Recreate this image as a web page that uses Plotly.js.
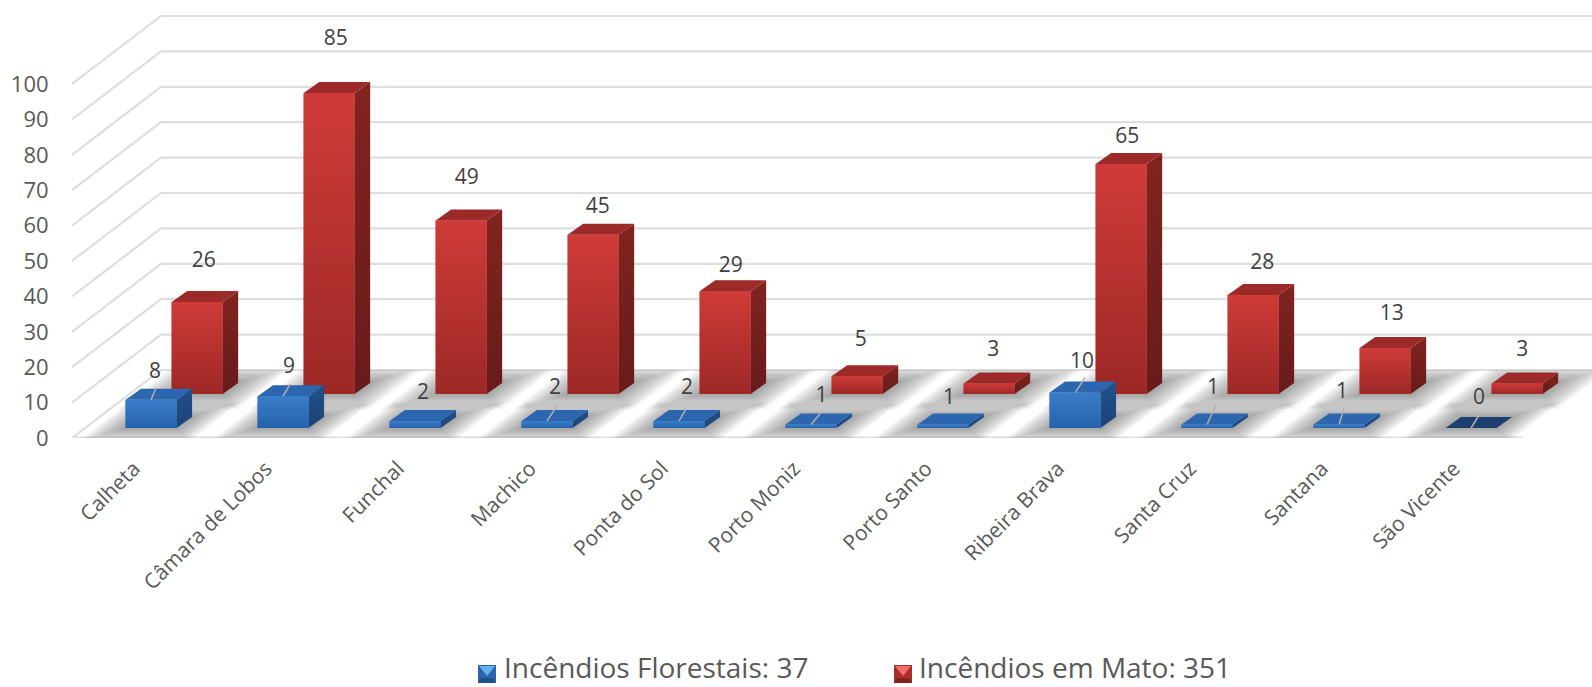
<!DOCTYPE html>
<html><head><meta charset="utf-8">
<script src="https://cdn.plot.ly/plotly-3.0.1.min.js"></script>
<style>html,body{margin:0;padding:0;background:#fff}#c{width:1592px;height:687px}</style></head>
<body><div id="c"></div>
<script>
const categories=["Calheta","Câmara de Lobos","Funchal","Machico","Ponta do Sol","Porto Moniz","Porto Santo","Ribeira Brava","Santa Cruz","Santana","São Vicente"];
const florestais=[8,9,2,2,2,1,1,10,1,1,0];
const mato=[26,85,49,45,29,5,3,65,28,13,3];
const yTicks=[0,10,20,30,40,50,60,70,80,90,100];
const legendNames=["Incêndios Florestais: 37","Incêndios em Mato: 351"];
// label placement (pixels relative to bar's front-top centre)
const redLabelDX=[6.5,6.5,5.5,4.5,5.5,3.5,4,6,9,6.5,5];
const redLabelLift=[40,53.5,41.8,26.7,24.3,35.3,33,26,31,33,33];
const blueLabelDX=[4,6,8,8,8,10.5,6,7,6,3,8];
const blueLabelLift=[26.5,28,27.5,32.5,32.5,28,26,29.5,36,32,29.5];
const leaderDX=[5,7,0,10,7,10,0,10,9,5,8];
const leaderDY=[12,12,0,15,12,12,0,15,20,17,13];

const SLOT=132,UNIT=3.54,W=51/SLOT,DEPX=15.5/SLOT,DEPY=11/UNIT;
const RED_L=.755,BLUE_L=.406,RED_B=44/UNIT,BLUE_B=10/UNIT;
const BACKX=89/SLOT,BACKY=68/UNIT;
const XMAX=1520/SLOT,YMAX=438/UNIT,PLOT_L=72,PLOT_W=1520,PLOT_H=438;
const pth=p=>p.map((q,i)=>(i?'L':'M')+q[0]+','+q[1]).join('')+'Z';

const shapes=[];
const line=(pts,w)=>shapes.push({type:'path',layer:'below',xref:'x',yref:'y',path:pts.map((q,i)=>(i?'L':'M')+q[0]+','+q[1]).join(''),line:{color:'#dedede',width:w}});
yTicks.forEach(v=>{ line([[0,v],[BACKX,v+BACKY],[XMAX,v+BACKY]],2.2); });
line([[0,0],[1451/SLOT,0]],3);

function shadow(left,base,ext,backClip){
  const n=9;
  for(let k=0;k<n;k++){
    const e=ext*(1-k/n);
    const slope=BACKX/BACKY;
    const yf=base-(e*.45)/UNIT;
    let yb=base+DEPY+(e*.5)/UNIT;
    if(backClip!==null&&yb>backClip)yb=backClip;
    const xf=left-e/SLOT-(base-yf)*slope;
    const xr=left+W+e/SLOT-(base-yf)*slope;
    const s=(yb-yf)*slope;
    shapes.push({type:'path',layer:'below',xref:'x',yref:'y',path:pth([[xf,yf],[xr,yf],[xr+s,yb],[xf+s,yb]]),fillcolor:'rgba(70,70,70,0.065)',line:{width:0}});
  }
}
categories.forEach((c,i)=>{shadow(i+RED_L,RED_B,34,BACKY);shadow(i+BLUE_L,BLUE_B,30,null);});

const traces=[];
const xs=categories.map((c,i)=>i);
traces.push({type:'bar',x:xs.map(i=>i+RED_L+W/2),y:mato,base:mato.map(()=>RED_B),width:W,marker:{color:'#b33230',line:{width:0}},showlegend:false,hoverinfo:'y',name:'Incêndios em Mato'});
traces.push({type:'bar',x:xs.map(i=>i+BLUE_L+W/2),y:florestais,base:florestais.map(()=>BLUE_B),width:W,marker:{color:'#2f6fb9',line:{width:0}},showlegend:false,hoverinfo:'y',name:'Incêndios Florestais'});

function poly(p,fill,grad){
  const t={type:'scatter',mode:'lines',x:[...p.map(q=>q[0]),p[0][0]],y:[...p.map(q=>q[1]),p[0][1]],fill:'toself',line:{width:0},hoverinfo:'skip',showlegend:false};
  if(grad)t.fillgradient={type:'vertical',colorscale:[[0,grad[0]],[1,grad[1]]]};else t.fillcolor=fill;
  traces.push(t);
}
function box(left,base,v,st){
  const top=base+v;
  poly([[left+W,base],[left+W+DEPX,base+DEPY],[left+W+DEPX,top+DEPY],[left+W,top]],null,st.side);
  poly([[left,top],[left+W,top],[left+W+DEPX,top+DEPY],[left+DEPX,top+DEPY]],v===0?st.top0:st.top);
  if(v>0)poly([[left,base],[left+W,base],[left+W,top],[left,top]],null,st.front);
}
const redSt={side:['#671b1a','#80241f'],top:'#9c2a28',top0:'#9c2a28',front:['#9c2826','#cf3b38']};
const bluSt={side:['#1c4478','#21508a'],top:'#2b66ae',top0:'#1c3f70',front:['#2662ab','#3b7dc9']};
xs.forEach(i=>box(i+RED_L,RED_B,mato[i],redSt));
xs.forEach(i=>box(i+BLUE_L,BLUE_B,florestais[i],bluSt));

// leader lines
const lx=[],ly=[];
xs.forEach(i=>{ if(!leaderDY[i])return; const cx=i+BLUE_L+W/2, t=BLUE_B+florestais[i];
  lx.push(cx,cx+leaderDX[i]/SLOT,null); ly.push(t,t+leaderDY[i]/UNIT,null);});
traces.push({type:'scatter',mode:'lines',x:lx,y:ly,line:{color:'#b0b0b0',width:1.5},hoverinfo:'skip',showlegend:false});

// data labels
const txt={family:'"Open Sans",sans-serif',size:21,color:'#404040'};
traces.push({type:'scatter',mode:'text',x:xs.map(i=>i+RED_L+W/2+redLabelDX[i]/SLOT),y:xs.map(i=>RED_B+mato[i]+redLabelLift[i]/UNIT),text:mato.map(String),textposition:'middle center',textfont:txt,hoverinfo:'skip',showlegend:false,cliponaxis:false});
traces.push({type:'scatter',mode:'text',x:xs.map(i=>i+BLUE_L+W/2+blueLabelDX[i]/SLOT),y:xs.map(i=>BLUE_B+florestais[i]+blueLabelLift[i]/UNIT),text:florestais.map(String),textposition:'middle center',textfont:txt,hoverinfo:'skip',showlegend:false,cliponaxis:false});

// legend: swatch + text, placed in paper coordinates
const px=v=>(v-PLOT_L)/PLOT_W, py=v=>(PLOT_H-v)/PLOT_H;
const annotations=[];
[[478,502,'#2b64a8','#1f4f8f','#63b0ee'],[894,917,'#a92d2b','#7f2220','#ee6e69']].forEach((s,k)=>{
  const x0=s[0],x1=s[0]+18,y0=665,y1=683;
  const sh=(p,c)=>shapes.push({type:'path',layer:'above',xref:'paper',yref:'paper',path:pth(p.map(q=>[px(q[0]),py(q[1])])),fillcolor:c,line:{width:0}});
  sh([[x0,y0],[x1,y0],[x1,y1],[x0,y1]],s[2]);
  sh([[x0+3,y1-5],[x1-3,y1-5],[x1,y1],[x0,y1]],s[3]);
  sh([[x0+1,y0+1],[x1-1,y0+1],[(x0+x1)/2,y0+11]],s[4]);
  annotations.push({xref:'paper',yref:'paper',x:px(s[1]),y:py(667),xanchor:'left',yanchor:'middle',text:legendNames[k],showarrow:false,font:{size:28,color:'#595959',family:'"Open Sans",sans-serif'}});
});

const layout={
  width:1592,height:687,autosize:false,paper_bgcolor:'#fff',plot_bgcolor:'rgba(0,0,0,0)',
  margin:{l:72,r:0,t:0,b:249,autoexpand:false},
  barmode:'overlay',hovermode:false,showlegend:false,
  font:{family:'"Open Sans",sans-serif',color:'#595959',size:20},
  xaxis:{range:[0,XMAX],tickmode:'array',tickvals:xs.map(i=>i+.47),ticktext:categories,tickangle:-45,showgrid:false,zeroline:false,showline:false,ticks:'outside',ticklen:9,tickcolor:'rgba(0,0,0,0)',tickfont:{size:21,color:'#595959'}},
  yaxis:{range:[0,YMAX],tickmode:'array',tickvals:yTicks,showgrid:false,zeroline:false,showline:false,ticks:'outside',ticklen:18,tickcolor:'rgba(0,0,0,0)',tickfont:{size:22,color:'#595959'}},
  annotations,shapes
};
Plotly.newPlot('c',traces,layout,{displayModeBar:false,staticPlot:true});
</script></body></html>
